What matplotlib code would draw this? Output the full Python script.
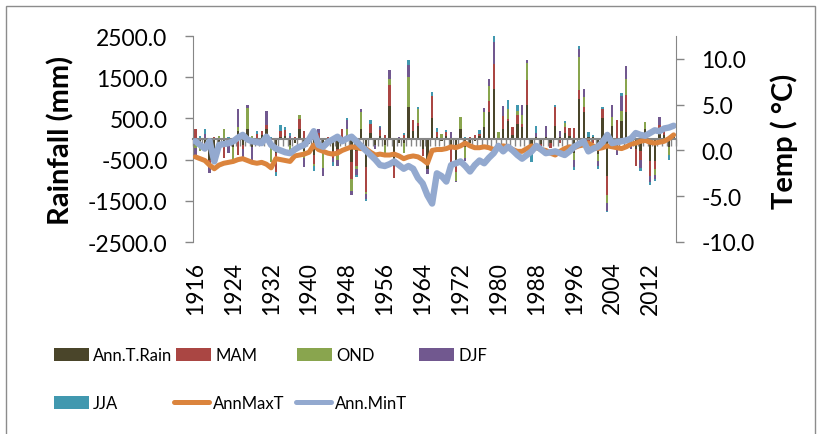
import numpy as np
import matplotlib
matplotlib.use("Agg")
import matplotlib.pyplot as plt
from matplotlib.patches import Patch, Rectangle
from matplotlib.lines import Line2D
from matplotlib.ticker import FormatStrFormatter

plt.rcParams["font.family"] = ["Lato", "DejaVu Sans"]

YEARS = list(range(1916, 2018))

# rainfall anomalies (mm), stacked in this order
ANN_T_RAIN = [-150, -200, -100, -500, -250, -150, -100, -150, -200, 200,
              -150, 250, -200, -100, 100, 250, -200, -350, 50, 80,
              -150, -100, 240, -300, -120, -400, -200, -250, -80, -300,
              -250, 50, 100, -570, -300, 250, -680, 150, -150, 80,
              -150, 800, -650, -100, -100, 770, 200, 320, -250, -720,
              520, 50, -60, 80, -250, -560, 240, -200, -100, -50,
              80, 290, 650, 1215, 20, 240, 445, 100, 365, 285,
              825, -300, 50, -120, 60, -100, 325, 40, 150, 70,
              -350, 960, 650, 60, 40, -365, 500, -900, 325, -200,
              445, 660, -150, -250, -300, 250, -525, -525, 150, 100,
              -200, 50]
MAM = [240, 0, -100, -150, 60, 0, -350, 0, 0, -400,
       -100, 0, 0, 120, 100, 100, 0, -450, 150, 150,
       0, 60, 240, 200, 0, -200, 150, 0, 50, -150,
       -150, 200, 0, -400, -350, 0, -600, 220, 0, 150,
       100, 500, -300, 0, 100, 0, 260, 80, -160, 0,
       520, 120, 0, 100, -300, -250, 0, 0, 40, 100,
       50, 0, 280, 610, 0, 320, 40, 200, 220, 80,
       615, -50, 0, -100, 0, -120, 440, -100, 150, 200,
       270, 220, 120, -80, -100, 0, 220, -450, 0, 450,
       0, 410, 0, -400, -200, 0, -365, -200, 200, 100,
       0, 0]
OND = [-80, -100, 0, 0, -150, 80, 250, 0, -300, 100,
       0, 500, 80, 0, -150, 0, -350, 0, 0, 0,
       -120, 0, 100, -150, 0, -50, 0, -450, 0, 0,
       -100, 0, 150, -280, -80, 400, -50, 0, 0, 0,
       -250, 150, 0, 0, -250, 730, 0, 320, 0, 0,
       0, 0, 120, 0, 0, -200, 290, -250, 0, 0,
       0, 360, 350, 0, 150, 0, 243, 0, 105, 220,
       400, 0, 0, 0, 0, 0, 0, 0, 80, 0,
       -150, 800, 240, 0, 0, -160, 0, -200, 200, 0,
       245, 390, 0, 0, 0, 160, 0, -160, 0, 0,
       -200, 0]
DJF = [-200, 0, 130, -170, 0, 0, 0, -200, 0, 420,
       -250, 70, -300, 0, 0, 320, 0, 0, 0, 0,
       80, 0, 0, -230, 0, 0, 100, -200, 0, -100,
       -150, 0, 200, -120, -150, 70, -120, 0, -100, 60,
       0, 220, 0, 60, 0, 290, 0, 0, 0, -120,
       0, 0, 0, 0, 180, -30, 0, -80, 0, 0,
       0, 100, 180, 530, 0, 240, 0, 0, 0, 245,
       75, 0, 100, 0, 250, 0, 0, 150, 0, 0,
       -180, 200, 200, 0, 0, -140, 0, -200, 300, -190,
       365, 310, -100, 0, -200, 0, -160, -80, 180, 100,
       0, 0]
JJA = [0, 80, 110, 0, 0, -40, 0, 60, 0, 0,
       40, 0, 0, 80, 0, 0, 50, -90, 150, 60,
       70, 0, 0, 0, 50, -120, -80, 0, 0, -100,
       0, 0, 60, 0, -50, 0, -60, 80, 0, 30,
       0, 0, 0, 0, 50, 120, 0, 60, 0, 0,
       100, 100, 0, 40, 0, 0, 0, 50, 0, 0,
       100, 0, 0, 145, 0, 0, 220, 0, 140, 0,
       0, -220, 160, 0, 0, 0, 60, 0, 50, 0,
       -80, 80, 0, 100, 60, -65, 60, -30, 0, 0,
       55, 0, 0, 0, -70, 0, -65, -65, 0, 0,
       -120, 30]

# temperature anomalies (deg C)
ANN_MAX_T = [-0.7, -0.9, -1.1, -1.6, -2.0, -1.6, -1.4, -1.3, -1.2, -1.0,
             -0.9, -1.1, -1.3, -1.4, -1.3, -1.5, -1.9, -0.9, -1.0, -1.1,
             -1.2, -0.6, -0.5, -0.4, -0.2, 0.6, 0.1, -0.1, -0.3, -0.4,
             -0.3, 0.0, 0.2, 0.4, 0.3, 0.2, 0.2, -0.2, -0.5, -0.4,
             -0.5, -0.5, -0.4, -0.6, -0.9, -0.7, -0.6, -0.7, -1.0, -1.4,
             0.0, 0.1, 0.1, 0.2, 0.4, 0.3, 0.5, 0.8, 0.5, 0.3,
             0.3, 0.4, 0.3, 0.1, 0.3, 0.5, 0.4, 0.1, -0.1, -0.1,
             0.2, 0.5, 0.3, 0.1, 0.0, -0.3, -0.5, -0.1, 0.2, 0.4,
             0.3, 0.5, 0.6, 0.8, 0.5, 0.2, 0.3, 0.5, 0.4, 0.3,
             0.2, 0.4, 0.7, 0.8, 1.0, 1.1, 0.9, 0.8, 0.9, 1.0,
             1.3, 1.7]
ANN_MIN_T = [1.0, 0.6, 0.2, 1.0, -1.2, 0.6, 0.7, 0.8, 1.0, 1.4,
             1.7, 1.2, 1.0, 0.9, 0.8, 1.5, 0.6, 0.2, 0.0, -0.2,
             -0.3, 0.1, 0.4, 0.6, 1.2, 2.1, 0.6, 0.4, 0.9, 1.2,
             1.5, 1.0, 1.3, 1.5, 1.0, 0.5, 0.0, -0.5, -1.0, -1.6,
             -1.7, -1.5, -1.2, -1.6, -2.0, -1.7, -2.0, -3.0, -3.6, -4.9,
             -5.8, -2.5, -2.8, -3.4, -1.6, -1.4, -1.2, -1.7, -2.3, -1.6,
             -1.1, -1.4, -0.8, -0.3, 0.5, -0.1, 0.4, 0.0, -0.5, -0.9,
             -0.5, -0.1, 0.5, 0.1, -0.3, -0.2, -0.1, -0.3, -0.5, -0.1,
             0.4, 0.7, 1.0, -0.1, 0.2, 0.4, 0.9, 1.7, 0.8, 0.9,
             1.0, 1.1, 1.3, 1.9, 1.7, 1.6, 1.9, 2.2, 2.1, 2.4,
             2.5, 2.7]

RAIN_SERIES = [
    ("Ann.T.Rain", ANN_T_RAIN, "#4A452A"),
    ("MAM", MAM, "#AA4643"),
    ("OND", OND, "#89A54E"),
    ("DJF", DJF, "#71588F"),
    ("JJA", JJA, "#4198AF"),
]
MAX_COLOR = "#DB843D"
MIN_COLOR = "#93A9CF"
AXIS_GRAY = "#868686"

W, H = 826, 435
fig = plt.figure(figsize=(W / 100, H / 100), dpi=100)
fig.patch.set_facecolor("white")
ax = fig.add_axes([193 / W, 1 - 243 / H, (676 - 193) / W, (243 - 37) / H])

x = np.arange(len(YEARS))
pos_base = np.zeros(len(x))
neg_base = np.zeros(len(x))
for name, vals, color in RAIN_SERIES:
    v = np.array(vals, dtype=float)
    base = np.where(v >= 0, pos_base, neg_base)
    ax.bar(x, v, width=0.48, bottom=base, color=color, linewidth=0, label=name)
    pos_base += np.clip(v, 0, None)
    neg_base += np.clip(v, None, 0)

ax.set_xlim(-0.5, len(x) - 0.5)
ax.set_ylim(-2500, 2500)
ax.set_yticks(np.arange(-2500, 2501, 1000))
ax.yaxis.set_major_formatter(FormatStrFormatter("%.1f"))
ax.tick_params(axis="y", length=5.8, width=1, color=AXIS_GRAY, pad=12.5,
               labelsize=16.5)

# category axis crosses at zero, ticks between categories
ax.spines["bottom"].set_position(("data", 0))
ax.spines["bottom"].set_color(AXIS_GRAY)
ax.spines["bottom"].set_linewidth(1.5)
ax.set_xticks(np.arange(len(x) + 1) - 0.5)
ax.tick_params(axis="x", length=5, width=1, color=AXIS_GRAY, labelbottom=False)
ax.spines["left"].set_color(AXIS_GRAY)
for s in ("top", "right"):
    ax.spines[s].set_visible(False)

sec = ax.secondary_xaxis(0.0)
sec.set_xticks(x[::8])
sec.set_xticklabels([str(y) for y in YEARS[::8]], rotation=90, fontsize=16.5)
sec.tick_params(length=0, pad=13.5)
sec.spines["bottom"].set_visible(False)

ax2 = ax.twinx()
ax2.plot(x, ANN_MAX_T, color=MAX_COLOR, lw=3.6, solid_capstyle="round",
         solid_joinstyle="round", label="AnnMaxT")
ax2.plot(x, ANN_MIN_T, color=MIN_COLOR, lw=4.6, solid_capstyle="round",
         solid_joinstyle="round", label="Ann.MinT")
ax2.set_ylim(-10, 12.5)
ax2.set_yticks(np.arange(-10, 10.1, 5))
ax2.yaxis.set_major_formatter(FormatStrFormatter("%.1f"))
ax2.tick_params(axis="y", length=5.8, width=1, color=AXIS_GRAY, pad=12.5,
                labelsize=16.5)
ax2.spines["right"].set_color(AXIS_GRAY)
for s in ("top", "left", "bottom"):
    ax2.spines[s].set_visible(False)

fig.text(61 / W, 1 - 140 / H, "Rainfall (mm)", rotation=90, ha="center",
         va="center", fontsize=21, fontweight="bold")
fig.text(784 / W, 1 - 141 / H, "Temp ( \u00b0C)", rotation=90, ha="center",
         va="center", fontsize=21, fontweight="bold")

# legend: two rows, evenly spaced entries
entries = [
    (Patch(facecolor=RAIN_SERIES[0][2]), "Ann.T.Rain", 54, 356),
    (Patch(facecolor=RAIN_SERIES[1][2]), "MAM", 176, 356),
    (Patch(facecolor=RAIN_SERIES[2][2]), "OND", 297, 356),
    (Patch(facecolor=RAIN_SERIES[3][2]), "DJF", 419, 356),
    (Patch(facecolor=RAIN_SERIES[4][2]), "JJA", 54, 404),
    (Line2D([], [], color=MAX_COLOR, lw=3.6, solid_capstyle="round"), "AnnMaxT", 174, 404),
    (Line2D([], [], color=MIN_COLOR, lw=3.6, solid_capstyle="round"), "Ann.MinT", 296, 404),
]
for handle, label, lx, ly in entries:
    fig.legend(handles=[handle], labels=[label], loc="center left",
               bbox_to_anchor=(lx / W, 1 - ly / H), frameon=False,
               borderpad=0, borderaxespad=0, handlelength=2.1,
               handleheight=0.8, handletextpad=0.25,
               prop={"size": 12})

fig.add_artist(Rectangle((6 / W, -0.05), (815 - 6) / W, 1.05 - 7 / H,
                         transform=fig.transFigure, fill=False,
                         edgecolor="#8c8c8c", linewidth=1))

fig.savefig("out.png", dpi=100, facecolor="white")
